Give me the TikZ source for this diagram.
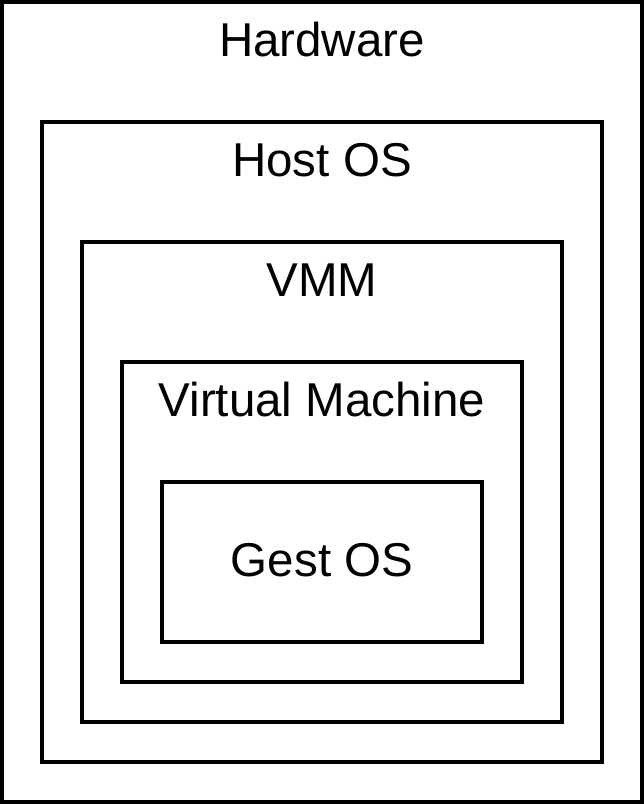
\documentclass[tikz,border=0pt]{standalone}
\usepackage{fontspec}
\setmainfont{Liberation Sans}
\begin{document}
\begin{tikzpicture}[x=1pt,y=-1pt,
  layer/.style={draw=black,line width=4pt,fill=white},
  lbl/.style={font=\fontsize{47.5}{56}\selectfont,inner sep=0pt,anchor=center}]
\useasboundingbox (0,0) rectangle (644,804);
\draw[layer] (2,2) rectangle (642,802);
\draw[layer] (42,122) rectangle (602,762);
\draw[layer] (82,242) rectangle (562,722);
\draw[layer] (122,362) rectangle (522,682);
\draw[layer] (162,482) rectangle (482,642);
\node[lbl] (hw) at (322,40) {Hardware};
\node[lbl] (host) at (322,160) {Host OS};
\node[lbl] (vmm) at (322,280) {VMM};
\node[lbl] (vm) at (322,400) {Virtual Machine};
\node[lbl] (gos) at (322,560) {Gest OS};
\end{tikzpicture}
\end{document}
